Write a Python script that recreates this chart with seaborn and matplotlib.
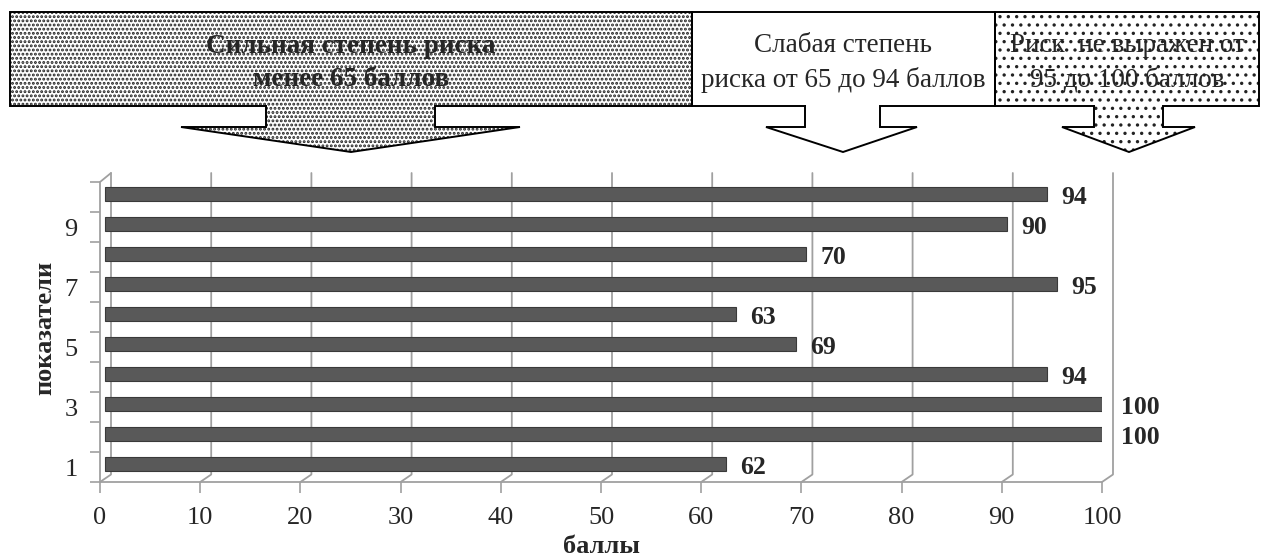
import numpy as np
import pandas as pd
import matplotlib
matplotlib.use('Agg')
import matplotlib.pyplot as plt
from matplotlib.patches import Polygon
from matplotlib.transforms import offset_copy
import seaborn as sns

# data (indicator 1 at the bottom)
indicators = [1, 2, 3, 4, 5, 6, 7, 8, 9, 10]
scores = [62, 100, 100, 94, 69, 63, 95, 70, 90, 94]
x_ticks = [0, 10, 20, 30, 40, 50, 60, 70, 80, 90, 100]
y_label_pos = [1, 3, 5, 7, 9]
y_tick_labels = ['1', '3', '5', '7', '9']
zone_texts = ['Сильная степень риска\nменее 65 баллов',
              'Слабая степень\nриска от 65 до 94 баллов',
              'Риск  не выражен от\n95 до 100 баллов']

sns.set_style('white')
plt.rcParams['font.family'] = ['Liberation Serif', 'DejaVu Serif']

W, H = 1262, 556
fig = plt.figure(figsize=(W / 100, H / 100), dpi=100)

# overlay in pixel coordinates for the header boxes and arrows
over = fig.add_axes([0, 0, 1, 1])
over.set_xlim(0, W)
over.set_ylim(H, 0)
over.axis('off')

box_top, box_bot, head_y, tip_y = 12, 106, 127, 152
# (left, right, hatch, hatch linewidth, bold text)
boxes = [(10, 692, '....', 1.4, True), (692, 995, '', 1.0, False), (995, 1259, '..', 1.2, False)]
arrows = [(266, 435, 181, 520, 351), (805, 880, 766, 917, 843), (1094, 1163, 1062, 1195, 1129)]
for (bx0, bx1, hatch, hlw, bold), (sl, sr, hl, hr, tip), txt in zip(boxes, arrows, zone_texts):
    box_pts = [(bx0, box_bot), (bx0, box_top), (bx1, box_top), (bx1, box_bot), (sr, box_bot),
               (sr, head_y), (hr, head_y), (tip, tip_y), (hl, head_y), (sl, head_y), (sl, box_bot)]
    with plt.rc_context({'hatch.linewidth': hlw}):
        over.add_patch(Polygon(box_pts, closed=True, facecolor='white', edgecolor='#222222',
                               hatch=hatch, linewidth=0, zorder=1))
    over.plot([sl, bx0, bx0, bx1, bx1, sr, sr, hr, tip, hl, sl, sl],
              [box_bot, box_bot, box_top, box_top, box_bot, box_bot, head_y, head_y, tip_y,
               head_y, head_y, box_bot], color='black', lw=1.4, zorder=2, solid_joinstyle='miter')
    over.text((bx0 + bx1) / 2, 63, txt, ha='center', va='center', fontsize=19.5,
              fontweight='bold' if bold else 'normal', linespacing=1.45, zorder=3)

# main chart
ax_l, ax_r, ax_t, ax_b = 100, 1102, 173, 482
ax = fig.add_axes([ax_l / W, 1 - ax_b / H, (ax_r - ax_l) / W, (ax_b - ax_t) / H])
ax.set_facecolor('none')

df = pd.DataFrame({'indicator': indicators, 'score': scores})
sns.barplot(data=df, x='score', y='indicator', orient='h', native_scale=True, width=0.45,
            color='#595959', saturation=1, edgecolor='#3a3a3a', linewidth=0.8, ax=ax)

# 3D depth look: shift bars slightly back
bar_tr = offset_copy(ax.transData, fig=fig, x=5, y=3, units='dots')
for p in ax.patches:
    p.set_transform(bar_tr)

ax.set_xlim(0, 100)
ax.set_ylim(0.5, 10.8)
for s in ax.spines.values():
    s.set_visible(False)

ux = 100 / (ax_r - ax_l)
dx = 11 * ux
grid_c = '#a0a0a0'
for t in x_ticks:
    ax.plot([t, t + dx, t + dx], [0.5, 0.75, 10.8], color=grid_c, lw=1.3, clip_on=False, zorder=0)
ax.plot([0, 0, dx], [0.5, 10.5, 10.8], color=grid_c, lw=1.3, clip_on=False, zorder=0)
ax.plot([0, 100], [0.5, 0.5], color=grid_c, lw=1.3, clip_on=False, zorder=0)

ax.set_xticks(x_ticks)
ax.set_xticklabels([str(t) for t in x_ticks])
ax.set_yticks(np.arange(0.5, 11, 1))
ax.set_yticklabels([])
ax.set_yticks(y_label_pos, minor=True)
ax.set_yticklabels(y_tick_labels, minor=True)
ax.tick_params(axis='x', which='major', bottom=True, direction='out', length=8, width=1.2,
               color=grid_c, pad=10, labelsize=19)
ax.tick_params(axis='y', which='major', left=True, direction='out', length=7, width=1.2,
               color=grid_c)
ax.tick_params(axis='y', which='minor', left=True, length=0, pad=16, labelsize=19)

for y, v in zip(indicators, scores):
    ax.text(v + 1.9, y, str(v), ha='left', va='center', fontsize=18.5, fontweight='bold')

ax.set_xlabel('баллы', fontsize=19, fontweight='bold', labelpad=4)
ax.set_ylabel('показатели', fontsize=19, fontweight='bold', labelpad=6)

fig.savefig('out.png', dpi=100)
